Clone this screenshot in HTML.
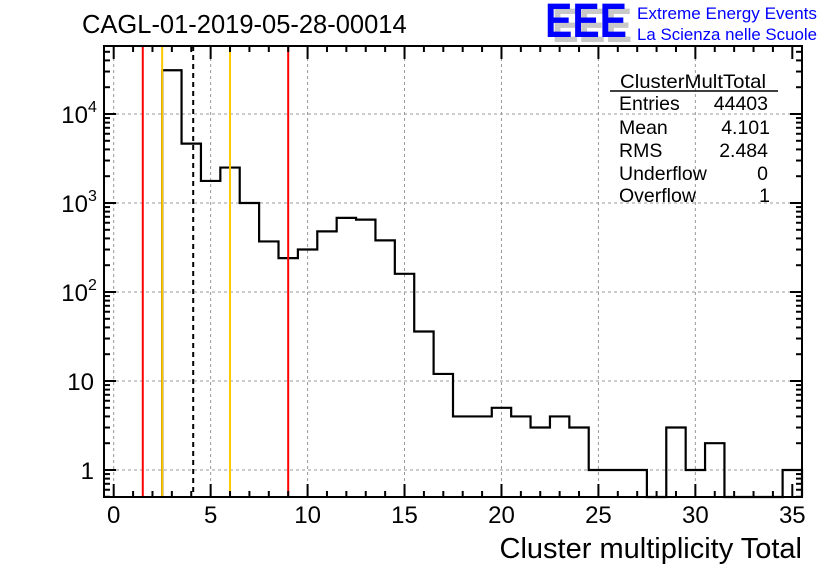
<!DOCTYPE html>
<html><head><meta charset="utf-8"><style>
body{margin:0;background:#fff;}
svg text{font-family:"Liberation Sans",sans-serif;}
</style></head><body>
<svg id="c" width="836" height="572" xmlns="http://www.w3.org/2000/svg">
<rect width="836" height="572" fill="#fff"/>
<text x="82" y="33" font-size="25.5" fill="#000">CAGL-01-2019-05-28-00014</text>
<g>
<text x="552" y="42" font-size="48" font-weight="bold" fill="#c8c8c8" textLength="80" lengthAdjust="spacingAndGlyphs">EEE</text>
<text x="545" y="37" font-size="48" font-weight="bold" fill="#0000ff" textLength="82" lengthAdjust="spacingAndGlyphs">EEE</text>
<text x="637" y="19" font-size="17" fill="#0000ff" textLength="180" lengthAdjust="spacingAndGlyphs">Extreme Energy Events</text>
<text x="637" y="40" font-size="17" fill="#0000ff" textLength="180" lengthAdjust="spacingAndGlyphs">La Scienza nelle Scuole</text>
</g>
<g id="grid"></g>
<g id="plot"></g>
<g id="axes"></g>
<g font-size="19.5">
<text x="620" y="88" textLength="146" lengthAdjust="spacingAndGlyphs">ClusterMultTotal</text>
<line x1="610" y1="91" x2="778" y2="91" stroke="#000" stroke-width="1.5"/>
<text x="619" y="110">Entries</text><text x="768" y="110" text-anchor="end">44403</text>
<text x="619" y="134">Mean</text><text x="770" y="134" text-anchor="end">4.101</text>
<text x="619" y="157">RMS</text><text x="768" y="157" text-anchor="end">2.484</text>
<text x="619" y="180">Underflow</text><text x="768" y="180" text-anchor="end">0</text>
<text x="619" y="202">Overflow</text><text x="770" y="202" text-anchor="end">1</text>
</g>
<text x="802" y="558" font-size="29" text-anchor="end">Cluster multiplicity Total</text>
</svg>
<script>
var binCenters=[3,4,5,6,7,8,9,10,11,12,13,14,15,16,17,18,19,20,21,22,23,24,25,26,27,28,29,30,31,32,33,34,35];
var binCounts=[31000,4650,1770,2500,1000,370,240,300,480,680,650,380,160,36,12,4,4,5,4,3,4,3,1,1,1,0,3,1,2,0,0,0,1];
var xTicks=[0,5,10,15,20,25,30,35];
var yDecades=[1,10,100,1000,10000];
var yDecadeLabels=["1","10","10^2","10^3","10^4"];
var markerLines=[{x:1.5,c:"#ff0000",d:"none"},{x:2.5,c:"#ffc800",d:"none"},{x:4.101,c:"#000000",d:"5,4"},{x:6,c:"#ffc800",d:"none"},{x:9,c:"#ff0000",d:"none"}];
var L=104,R=802,T=46,B=497,xmin=-0.5,xmax=35.5;
function X(v){return L+(v-xmin)/(xmax-xmin)*(R-L);}
function Y(v){return 114-(Math.log10(v)-4)*89;}
var NS="http://www.w3.org/2000/svg";
function mk(p,t,a){var e=document.createElementNS(NS,t);for(var k in a)e.setAttribute(k,String(a[k]));document.getElementById(p).appendChild(e);return e;}
xTicks.forEach(function(v){if(v>=35)return;var g=mk("grid","line",{x1:X(v),x2:X(v),y1:T,y2:B,stroke:"#999","stroke-dasharray":"3,3"});

});
yDecades.forEach(function(v){var g=mk("grid","line",{x1:L,x2:R,y1:Y(v),y2:Y(v),stroke:"#999","stroke-dasharray":"3,3"});

});
var pd="",first=true;
binCenters.forEach(function(c,i){var v=binCounts[i];var y=v>0?Y(v):B;var x0=X(c-0.5),x1=X(c+0.5);
if(first){pd+="M"+x0+","+B+"L"+x0+","+y;first=false;}else pd+="L"+x0+","+y;pd+="L"+x1+","+y;});
pd+="L"+X(binCenters[binCenters.length-1]+0.5)+","+B;
var h=mk("plot","path",{d:pd,fill:"none",stroke:"#000","stroke-width":2.2});


markerLines.forEach(function(m){var l=mk("plot","line",{x1:X(m.x),x2:X(m.x),y1:T,y2:B,stroke:m.c,"stroke-width":2,"stroke-dasharray":m.d});

});
var f=mk("axes","rect",{x:L,y:T,width:R-L,height:B-T,fill:"none",stroke:"#000","stroke-width":2});


for(var v=0;v<=35;v++){var len=v%5==0?13:6;
mk("axes","line",{x1:X(v),x2:X(v),y1:B,y2:B-len,stroke:"#000","stroke-width":2});
mk("axes","line",{x1:X(v),x2:X(v),y1:T,y2:T+len,stroke:"#000","stroke-width":2});}
xTicks.forEach(function(v){var t=mk("axes","text",{x:X(v),y:B+26,"font-size":24,"text-anchor":"middle"});t.textContent=String(v);

});
for(var e=-1;e<=4;e++)for(var m=1;m<=9;m++){var val=m*Math.pow(10,e);var y=Y(val);if(y<T||y>B)continue;var ln=m==1?12:6;
mk("axes","line",{x1:L,x2:L+ln,y1:y,y2:y,stroke:"#000","stroke-width":2});
mk("axes","line",{x1:R,x2:R-ln,y1:y,y2:y,stroke:"#000","stroke-width":2});}
yDecades.forEach(function(v,i){var lab=yDecadeLabels[i];var t=mk("axes","text",{x:94,y:Y(v)+9,"font-size":24,"text-anchor":"end"});
if(lab.indexOf("^")>=0){var parts=lab.split("^");t.setAttribute("x","88");t.textContent=parts[0];var s=mk("axes","text",{x:88,y:Y(v)-2,"font-size":16});s.textContent=parts[1];

}else t.textContent=lab;

});
</script>
</body></html>
